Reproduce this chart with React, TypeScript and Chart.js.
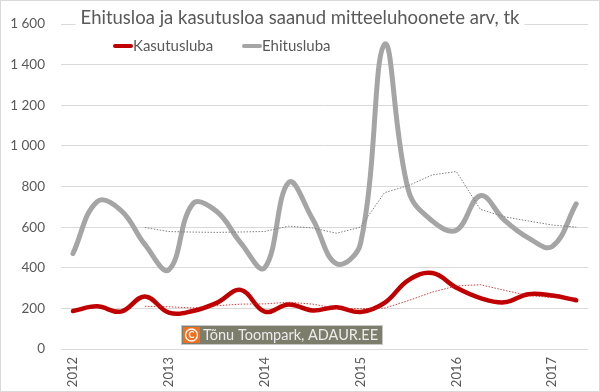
import React, { useEffect, useRef } from "react";
import { Chart, registerables } from "chart.js";

Chart.register(...registerables);

const titleText = "Ehitusloa ja kasutusloa saanud mitteeluhoonete arv, tk";
const categories = ["2012", "", "", "", "2013", "", "", "", "2014", "", "", "", "2015", "", "", "", "2016", "", "", "", "2017", ""];
const kasutusluba = [187, 210, 184, 259, 179, 187, 227, 291, 184, 219, 190, 206, 182, 227, 339, 374, 302, 251, 230, 270, 263, 240];
const ehitusluba = [470, 725, 683, 515, 390, 715, 677, 523, 400, 820, 640, 420, 520, 1500, 780, 630, 585, 755, 635, 547, 505, 715];
const seriesNames = ["Kasutusluba", "Ehitusluba"];
const watermark = "Tõnu Toompark, ADAUR.EE";

const RED = "#c00000";
const GRAY = "#a5a5a5";
const TEXT = "#595959";
const FONT = "Lato, 'Open Sans', sans-serif";

function movingAverage(values: number[], period: number): (number | null)[] {
  return values.map((_, i) => {
    if (i < period - 1) return null;
    let s = 0;
    for (let k = i - period + 1; k <= i; k++) s += values[k];
    return s / period;
  });
}

function fitSize(text: string, target: number, weight = ""): number {
  const c = document.createElement("canvas").getContext("2d")!;
  c.font = `${weight} 20px ${FONT}`;
  const w = c.measureText(text).width;
  return Math.round((20 * target / w) * 2) / 2;
}

export default function App() {
  const ref = useRef<HTMLCanvasElement | null>(null);
  useEffect(() => {
    if (!ref.current) return;
    const yTickSize = Math.min(16, fitSize("1 600", 35));
    const xTickSize = Math.min(16, fitSize("2012", 30));
    const titleSize = fitSize(titleText, 434);
    const legendSize = fitSize(seriesNames[0], 80);
    const wmSize = fitSize(watermark, 175);

    const overlayPlugin = {
      id: "overlay",
      afterDraw(chart: any) {
        const ctx = chart.ctx as CanvasRenderingContext2D;
        ctx.save();
        // title
        ctx.font = `${titleSize}px ${FONT}`;
        const tw = ctx.measureText(titleText).width;
        const cx = 300;
        ctx.fillStyle = "#ffffff";
        ctx.fillRect(cx - tw / 2 - 5, 7, tw + 10, 22);
        ctx.fillStyle = TEXT;
        ctx.textAlign = "center";
        ctx.textBaseline = "middle";
        ctx.fillText(titleText, cx, 18);

        // legend
        ctx.font = `${legendSize}px ${FONT}`;
        ctx.textAlign = "left";
        ctx.textBaseline = "middle";
        ctx.lineCap = "round";
        const items = [
          { name: seriesNames[0], color: RED, x: 115 },
          { name: seriesNames[1], color: GRAY, x: 244 },
        ];
        for (const it of items) {
          ctx.strokeStyle = it.color;
          ctx.lineWidth = 4;
          ctx.beginPath();
          ctx.moveTo(it.x, 46);
          ctx.lineTo(it.x + 16, 46);
          ctx.stroke();
          ctx.fillStyle = TEXT;
          ctx.fillText(it.name, it.x + 18, 46);
        }

        // watermark
        const bx = 182, by = 326, bw = 200, bh = 18;
        ctx.fillStyle = "#7d7d6c";
        ctx.fillRect(bx, by, bw, bh);
        ctx.strokeStyle = "#c8c8c8";
        ctx.lineWidth = 1;
        ctx.strokeRect(bx - 0.5, by - 0.5, bw + 1, bh + 1);
        ctx.fillStyle = "#f26f21";
        ctx.fillRect(bx + 1, by + 1, 17, bh - 2);
        ctx.strokeStyle = "#ffffff";
        ctx.lineWidth = 1.3;
        ctx.beginPath();
        ctx.arc(bx + 9.5, by + 9, 6, 0, Math.PI * 2);
        ctx.stroke();
        ctx.font = `bold 9px ${FONT}`;
        ctx.fillStyle = "#ffffff";
        ctx.textAlign = "center";
        ctx.textBaseline = "middle";
        ctx.fillText("C", bx + 9.5, by + 9.5);
        ctx.font = `${wmSize}px ${FONT}`;
        ctx.textAlign = "left";
        ctx.textBaseline = "middle";
        ctx.fillStyle = "#ececec";
        ctx.fillText(watermark, bx + 21, by + 9.5);

        // outer border
        ctx.strokeStyle = "#d9d9d9";
        ctx.lineWidth = 1;
        ctx.strokeRect(0.5, 0.5, 599, 391);
        ctx.restore();
      },
    };

    const chart = new Chart(ref.current, {
      type: "line",
      data: {
        labels: categories,
        datasets: [
          {
            label: seriesNames[0] + " MA",
            data: movingAverage(kasutusluba, 4),
            borderColor: "rgba(210,30,30,0.85)",
            borderWidth: 1,
            borderDash: [1.5, 1.5],
            pointRadius: 0,
            tension: 0,
          },
          {
            label: seriesNames[1] + " MA",
            data: movingAverage(ehitusluba, 4),
            borderColor: "#7f7f7f",
            borderWidth: 1,
            borderDash: [1.5, 1.5],
            pointRadius: 0,
            tension: 0,
          },
          {
            label: seriesNames[0],
            data: kasutusluba,
            borderColor: RED,
            borderWidth: 4.5,
            pointRadius: 0,
            tension: 0.4,
            borderCapStyle: "round",
            borderJoinStyle: "round",
          },
          {
            label: seriesNames[1],
            data: ehitusluba,
            borderColor: GRAY,
            borderWidth: 5,
            pointRadius: 0,
            tension: 0.4,
            borderCapStyle: "round",
            borderJoinStyle: "round",
          },
        ],
      },
      options: {
        animation: false,
        responsive: false,
        devicePixelRatio: 1,
        layout: { padding: { top: 16, right: 8, bottom: 0, left: 0 } },
        plugins: { legend: { display: false }, title: { display: false }, tooltip: { enabled: false } },
        scales: {
          x: {
            offset: true,
            grid: { display: false, drawTicks: false },
            border: { display: false },
            ticks: {
              autoSkip: false,
              maxRotation: 90,
              minRotation: 90,
              padding: 8,
              color: TEXT,
              font: { family: FONT, size: xTickSize },
            },
            afterFit: (s: any) => { s.height = 43; },
          },
          y: {
            min: 0,
            max: 1600,
            grid: { color: "#d9d9d9", drawTicks: false, lineWidth: 1 },
            border: { display: false },
            ticks: {
              stepSize: 200,
              padding: 16,
              color: TEXT,
              font: { family: FONT, size: yTickSize },
              callback: (v: any) => String(v).replace(/\B(?=(\d{3})+(?!\d))/g, " "),
            },
            afterFit: (s: any) => { s.width = 61; },
          },
        },
      },
      plugins: [overlayPlugin],
    });
    return () => chart.destroy();
  }, []);
  return (
    <div style={{ position: "fixed", left: 0, top: 0, width: 600, height: 392, background: "#fff" }}>
      <canvas ref={ref} width={600} height={392} style={{ width: 600, height: 392 }} />
    </div>
  );
}
